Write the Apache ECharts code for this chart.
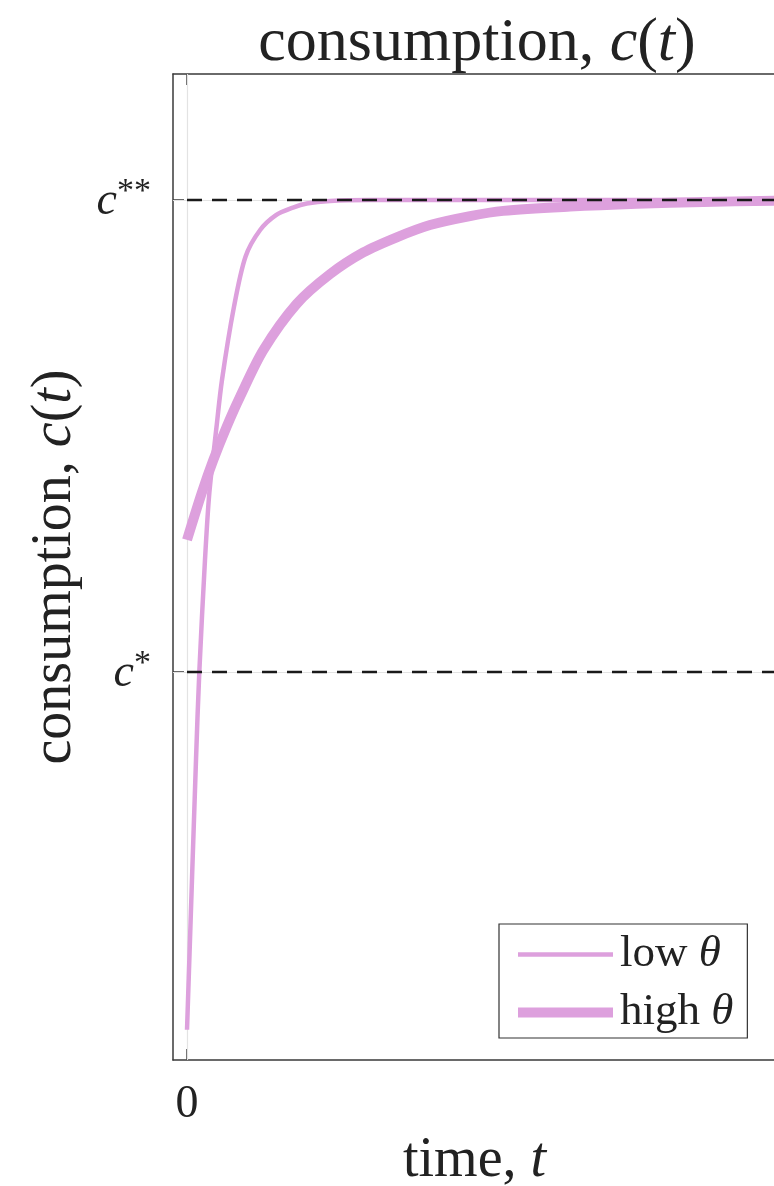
<!DOCTYPE html>
<html>
<head>
<meta charset="utf-8">
<script src="https://cdn.jsdelivr.net/npm/echarts@6/dist/echarts.min.js"></script>
<style>
html,body{margin:0;padding:0;background:#fff;}
#chart{width:774px;height:1186px;}
</style>
</head>
<body>
<div id="chart"></div>
<script>
// time values and consumption levels (c* = 1, c** = 2)
const tLow  = [0, 0.64, 0.876, 1.28, 1.59, 2.102, 2.494, 3.35, 4.17, 5.20, 6.345, 7.557, 8.534, 10.197, 13.05, 42];
const cLow  = [0.242, 0.814, 1.0, 1.237, 1.379, 1.519, 1.619, 1.774, 1.880, 1.936, 1.968, 1.984, 1.9926, 1.998, 2.0, 2.0];
const tHigh = [0, 1.047, 1.874, 2.83, 3.778, 5.44, 7.821, 10.196, 12.571, 14.953, 17.327, 20.18, 22.554, 27.31, 32.07, 36.82, 42];
const cHigh = [1.280, 1.379, 1.449, 1.520, 1.583, 1.682, 1.780, 1.843, 1.889, 1.921, 1.947, 1.966, 1.977, 1.986, 1.992, 1.9958, 1.9987];
const cStar = 1;
const cStarStar = 2;
const xTicks = [0];
const yTicks = [cStar, cStarStar];
const yTickLabels = ['{i|c}{s|*}', '{i|c}{s|**}'];
const tMin = -1, tMax = 42;
const yMin = 0.178, yMax = 2.267;

const FONT = 'Liberation Serif';
const pink = '#DDA0DD';
const axisColor = '#3a3a3a';
const textColor = '#222';

const richMath = {
  r: {fontFamily: FONT, fontSize: 56, color: textColor, fontWeight: 'normal'},
  i: {fontFamily: FONT, fontSize: 56, color: textColor, fontStyle: 'italic', fontWeight: 'normal'}
};

const chart = echarts.init(document.getElementById('chart'));
chart.setOption({
  animation: false,
  backgroundColor: '#fff',
  title: {
    text: '{r|consumption, }{i|c}{r|(}{i|t}{r|)}',
    left: 472, top: 8, textAlign: 'center',
    textStyle: {fontWeight: 'normal', rich: {
      r: {fontFamily: FONT, fontSize: 62, color: textColor, fontWeight: 'normal'},
      i: {fontFamily: FONT, fontSize: 62, color: textColor, fontStyle: 'italic', fontWeight: 'normal'}
    }}
  },
  grid: {left: 173, top: 74, right: -2, bottom: 126, containLabel: false, outerBoundsMode: 'none'},
  legend: {
    data: [
      {name: 'low', lineStyle: {width: 4.5}, itemStyle: {opacity: 0}},
      {name: 'high', lineStyle: {width: 10}, itemStyle: {opacity: 0}}
    ],
    orient: 'vertical', left: 499, top: 924,
    itemWidth: 95, itemHeight: 14, itemGap: 13,
    padding: [8, 14, 3, 14],
    backgroundColor: '#fff', borderColor: '#333', borderWidth: 1.2, borderRadius: 0,
    formatter: function (name) { return '{r|' + name + ' }{i|θ}'; },
    textStyle: {lineHeight: 42, rich: {
      r: {fontFamily: FONT, fontSize: 45, color: textColor, padding: [0,0,0,2]},
      i: {fontFamily: FONT, fontSize: 45, color: textColor, fontStyle: 'italic'}
    }},
    selectedMode: false
  },
  xAxis: [{
    type: 'value', min: tMin, max: tMax, position: 'bottom',
    name: '{r|time, }{i|t}', nameLocation: 'middle', nameGap: 69,
    nameTextStyle: {rich: richMath},
    axisLine: {show: true, onZero: false, lineStyle: {color: axisColor, width: 1.5}},
    axisTick: {show: true, inside: true, length: 11, customValues: xTicks, lineStyle: {color: axisColor, width: 1.5}},
    axisLabel: {show: true, customValues: xTicks, margin: 22, fontFamily: FONT, fontSize: 46, color: textColor},
    splitLine: {show: false}
  }, {
    type: 'value', min: tMin, max: tMax, position: 'top',
    axisLine: {show: true, onZero: false, lineStyle: {color: axisColor, width: 1.5}},
    axisTick: {show: true, inside: true, length: 11, customValues: xTicks, lineStyle: {color: axisColor, width: 1.5}},
    axisLabel: {show: false},
    splitLine: {show: false}
  }],
  yAxis: [{
    type: 'value', min: yMin, max: yMax, position: 'left',
    name: '{r|consumption, }{i|c}{r|(}{i|t}{r|)}', nameLocation: 'middle', nameGap: 90,
    nameTextStyle: {rich: richMath},
    axisLine: {show: true, onZero: false, lineStyle: {color: axisColor, width: 1.5}},
    axisTick: {show: true, inside: true, length: 11, customValues: yTicks, lineStyle: {color: axisColor, width: 1.5}},
    axisLabel: {
      show: true, customValues: yTicks, margin: 22,
      formatter: function (v) { return yTickLabels[yTicks.indexOf(v)]; },
      rich: {
        i: {fontFamily: FONT, fontSize: 46, color: textColor, fontStyle: 'italic', verticalAlign: 'bottom', lineHeight: 50},
        s: {fontFamily: FONT, fontSize: 34, color: textColor, verticalAlign: 'top', lineHeight: 50}
      }
    },
    splitLine: {show: false}
  }],
  series: [
    {
      name: 'grid', type: 'line', data: [], silent: true, z: 1,
      markLine: {
        silent: true, symbol: 'none', label: {show: false}, z: 1,
        lineStyle: {color: '#e3e3e3', width: 1.2, type: 'solid'},
        data: [{xAxis: xTicks[0]}, {yAxis: yTicks[0]}, {yAxis: yTicks[1]}]
      }
    },
    {
      name: 'low', type: 'line', symbol: 'none', z: 3,
      smooth: 0.3,
      lineStyle: {color: pink, width: 4.5},
      itemStyle: {color: pink},
      data: tLow.map((t, k) => [t, cLow[k]])
    },
    {
      name: 'high', type: 'line', symbol: 'none', z: 3,
      smooth: 0.3,
      lineStyle: {color: pink, width: 10},
      itemStyle: {color: pink},
      data: tHigh.map((t, k) => [t, cHigh[k]])
    },
    {
      name: 'cstar', type: 'line', symbol: 'none', z: 4, silent: true,
      lineStyle: {color: '#1a1a1a', width: 2.7, type: [15, 10]},
      data: [[0, cStar], [tMax, cStar]]
    },
    {
      name: 'cstarstar', type: 'line', symbol: 'none', z: 4, silent: true,
      lineStyle: {color: '#1a1a1a', width: 2.7, type: [15, 10]},
      data: [[0, cStarStar], [tMax, cStarStar]]
    }
  ]
});
</script>
</body>
</html>
